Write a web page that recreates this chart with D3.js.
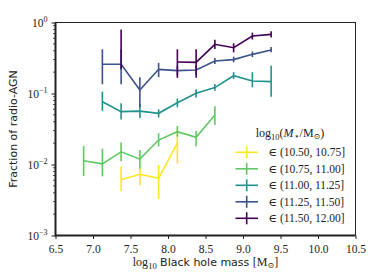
<!DOCTYPE html>
<html>
<head>
<meta charset="utf-8">
<script src="https://cdn.jsdelivr.net/npm/d3@7"></script>
<style>
  body { margin: 0; background: #fff; }
  svg { display: block; }
</style>
</head>
<body>
<svg id="chart"></svg>
<script>
// bin centres of log10 black hole mass
var bins = [6.875, 7.125, 7.375, 7.625, 7.875, 8.125, 8.375, 8.625, 8.875, 9.125, 9.375];

var seriesNames = ["(10.50, 10.75]", "(10.75, 11.00]", "(11.00, 11.25]", "(11.25, 11.50]", "(11.50, 12.00]"];

// fraction values per series (null = no bin)
var frac105 = [null, null, 0.0061, 0.0073, 0.0064, 0.0201, null, null, null, null, null];
var lo105   = [null, null, 0.0042, 0.0051, 0.0033, 0.0103, null, null, null, null, null];
var hi105   = [null, null, 0.0094, 0.0093, 0.0098, 0.030, null, null, null, null, null];

var frac1075 = [0.0113, 0.0102, 0.0151, 0.0119, 0.0221, 0.0290, 0.0241, 0.0498, null, null, null];
var lo1075   = [0.0069, 0.0068, 0.0111, 0.0087, 0.0179, 0.0245, 0.0181, 0.0360, null, null, null];
var hi1075   = [0.0183, 0.0167, 0.0204, 0.0160, 0.0276, 0.0350, 0.0296, 0.0660, null, null, null];

var frac1100 = [null, 0.0767, 0.0555, 0.0565, 0.0526, 0.0742, 0.1006, 0.121, 0.178, 0.150, 0.147];
var lo1100   = [null, 0.057, 0.043, 0.045, 0.046, 0.064, 0.088, 0.109, 0.160, 0.122, 0.090];
var hi1100   = [null, 0.106, 0.073, 0.071, 0.060, 0.085, 0.115, 0.136, 0.200, 0.200, 0.245];

var frac1125 = [null, 0.258, 0.258, 0.112, 0.219, 0.210, 0.214, 0.287, 0.300, 0.356, 0.410];
var lo1125   = [null, 0.135, 0.135, 0.064, 0.170, 0.180, 0.185, 0.260, 0.275, 0.325, 0.380];
var hi1125   = [null, 0.420, 0.420, 0.170, 0.270, 0.245, 0.245, 0.315, 0.330, 0.390, 0.450];

var frac1150 = [null, null, 0.51, null, null, 0.278, 0.274, 0.493, 0.442, 0.645, 0.680];
var lo1150   = [null, null, 0.22, null, null, 0.166, 0.166, 0.425, 0.380, 0.575, 0.615];
var hi1150   = [null, null, 0.80, null, null, 0.420, 0.420, 0.570, 0.510, 0.720, 0.750];

var xTicks = [6.5, 7.0, 7.5, 8.0, 8.5, 9.0, 9.5, 10.0, 10.5];
var yTicks = [1e-3, 1e-2, 1e-1, 1e0];
var yTickLabels = ["−3", "−2", "−1", "0"];

var width = 374, height = 277;
var margin = {top: 22.5, right: 18.5, bottom: 41.5, left: 55.5};

var allSeries = [
  {name: seriesNames[0], v: frac105, lo: lo105, hi: hi105, c: d3.interpolateViridis(1)},
  {name: seriesNames[1], v: frac1075, lo: lo1075, hi: hi1075, c: d3.interpolateViridis(0.75)},
  {name: seriesNames[2], v: frac1100, lo: lo1100, hi: hi1100, c: d3.interpolateViridis(0.5)},
  {name: seriesNames[3], v: frac1125, lo: lo1125, hi: hi1125, c: d3.interpolateViridis(0.25)},
  {name: seriesNames[4], v: frac1150, lo: lo1150, hi: hi1150, c: d3.interpolateViridis(0)}
];

var x = d3.scaleLinear()
  .domain([6.5, 10.5])
  .range([margin.left, width - margin.right]);

var y = d3.scaleLog()
  .domain([1e-3, 1])
  .range([height - margin.bottom, margin.top]);

var svg = d3.select("#chart")
  .attr("width", width)
  .attr("height", height);

var serif = "'Liberation Serif', 'DejaVu Serif', serif";
var sans = "'DejaVu Sans', sans-serif";

// series: lines then error bars
var plot = svg.append("g");

allSeries.forEach(function(s) {
  var pts = bins.map(function(b, i) {
    return {x: b, v: s.v[i], lo: s.lo[i], hi: s.hi[i]};
  });
  var line = d3.line()
    .defined(d => d.v != null)
    .x(d => x(d.x))
    .y(d => y(d.v));
  var g = plot.append("g");
  g.append("path")
    .datum(pts)
    .attr("d", line)
    .attr("fill", "none")
    .attr("stroke", s.c)
    .attr("stroke-width", 1.6);
  g.selectAll("line.err")
    .data(pts.filter(d => d.v != null))
    .join("line")
      .attr("class", "err")
      .attr("x1", d => x(d.x))
      .attr("x2", d => x(d.x))
      .attr("y1", d => y(d.lo))
      .attr("y2", d => y(d.hi))
      .attr("stroke", s.c)
      .attr("stroke-width", 1.6);
});

// axes
var xAxis = svg.append("g")
  .attr("transform", `translate(0,${height - margin.bottom})`)
  .call(d3.axisBottom(x).tickValues(xTicks).tickFormat(d3.format(".1f")).tickSize(3.5).tickPadding(5.5));

var yAxis = svg.append("g")
  .attr("transform", `translate(${margin.left},0)`)
  .call(d3.axisLeft(y).tickValues(yTicks).tickFormat("").tickSize(4));

[xAxis, yAxis].forEach(function(g) {
  g.select(".domain").remove();
  g.selectAll("line").attr("stroke", "#222").attr("stroke-width", 1);
  g.selectAll("text").style("font-family", serif).style("font-size", "11.5px").attr("fill", "#222");
});

// minor log ticks
var minors = [];
[1e-3, 1e-2, 1e-1].forEach(function(p) {
  for (var k = 2; k <= 9; k++) minors.push(p * k);
});
yAxis.selectAll("line.minor")
  .data(minors)
  .join("line")
    .attr("class", "minor")
    .attr("x1", -2.5)
    .attr("x2", 0)
    .attr("y1", d => y(d))
    .attr("y2", d => y(d))
    .attr("stroke", "#222")
    .attr("stroke-width", 0.8);

// y tick labels 10^n
yTicks.forEach(function(t, i) {
  var tx = yAxis.append("text")
    .attr("x", -8)
    .attr("y", y(t) + 4)
    .attr("text-anchor", "end")
    .style("font-family", serif)
    .style("font-size", "11.5px")
    .attr("fill", "#222");
  tx.append("tspan").text("10");
  tx.append("tspan").attr("dy", -5).style("font-size", "8px").text(yTickLabels[i]);
});

// frame
svg.append("rect")
  .attr("x", margin.left)
  .attr("y", margin.top)
  .attr("width", width - margin.left - margin.right)
  .attr("height", height - margin.top - margin.bottom)
  .attr("fill", "none")
  .attr("stroke", "#222")
  .attr("stroke-width", 1);
svg.append("path")
  .attr("d", `M${margin.left},${margin.top}V${height - margin.bottom}H${width - margin.right}`)
  .attr("fill", "none")
  .attr("stroke", "#222")
  .attr("stroke-width", 2);

// axis labels
svg.append("text")
  .attr("transform", `translate(17,${(margin.top + height - margin.bottom) / 2}) rotate(-90)`)
  .attr("text-anchor", "middle")
  .style("font-family", sans)
  .style("font-size", "11px")
  .attr("fill", "#222")
  .text("Fraction of radio-AGN");

var xl = svg.append("text")
  .attr("x", (margin.left + width - margin.right) / 2)
  .attr("y", 266)
  .attr("text-anchor", "middle")
  .attr("fill", "#222");
xl.append("tspan").style("font-family", serif).style("font-size", "12px").text("log");
xl.append("tspan").style("font-family", serif).style("font-size", "8.5px").attr("dy", 3).text("10");
xl.append("tspan").style("font-family", sans).style("font-size", "11px").attr("dy", -3).text(" Black hole mass ");
xl.append("tspan").style("font-family", serif).style("font-size", "12px").text("[M");
xl.append("tspan").style("font-family", serif).style("font-size", "8px").attr("dy", 2).text("⊙");
xl.append("tspan").style("font-family", serif).style("font-size", "12px").attr("dy", -2).text("]");

// legend
var lg = svg.append("g");
var title = lg.append("text")
  .attr("x", 290)
  .attr("y", 137)
  .attr("text-anchor", "middle")
  .style("font-family", serif)
  .style("font-size", "12px")
  .attr("fill", "#222");
title.append("tspan").text("log");
title.append("tspan").style("font-size", "8.5px").attr("dy", 3).text("10");
title.append("tspan").attr("dy", -3).text("(");
title.append("tspan").style("font-style", "italic").text("M");
title.append("tspan").style("font-size", "8.5px").attr("dy", 2).text("⋆");
title.append("tspan").attr("dy", -2).text("/M");
title.append("tspan").style("font-size", "8px").attr("dy", 2).text("⊙");
title.append("tspan").attr("dy", -2).text(")");

var items = lg.selectAll("g.item")
  .data(allSeries)
  .join("g")
    .attr("class", "item")
    .attr("transform", (d, i) => `translate(0,${152.3 + i * 16.5})`);
items.append("line")
  .attr("x1", 235.5).attr("x2", 258).attr("y1", 0).attr("y2", 0)
  .attr("stroke", d => d.c).attr("stroke-width", 1.6);
items.append("line")
  .attr("x1", 246.7).attr("x2", 246.7).attr("y1", -6).attr("y2", 6)
  .attr("stroke", d => d.c).attr("stroke-width", 1.6);
items.append("text")
  .attr("x", 268.5)
  .attr("y", 4)
  .style("font-family", serif)
  .style("font-size", "11.5px")
  .attr("fill", "#222")
  .text(d => "∈ " + d.name);
</script>
</body>
</html>
